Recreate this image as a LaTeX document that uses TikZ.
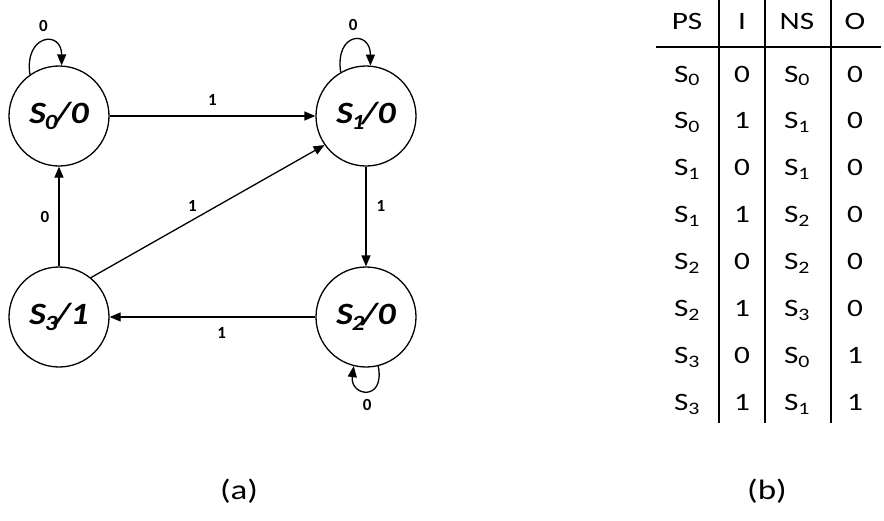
\documentclass[tikz,border=0pt]{standalone}
\usepackage{fontspec}
\setmainfont{Carlito}[Numbers=Lining]
\newfontfamily\tabfont{Carlito}[FakeStretch=1.25,Numbers=Lining]
\newfontfamily\statefont{Carlito}[FakeStretch=1.15,Numbers=Lining]
\usetikzlibrary{arrows.meta,positioning}

\tikzset{
  state/.style={circle,draw,line width=1.3pt,minimum size=100pt,inner sep=0pt,
    font=\statefont\fontsize{31}{31}\selectfont\bfseries\itshape},
  trans/.style={line width=1.3pt,-{Triangle[length=11pt,width=9pt]}},
  lbl/.style={font=\fontsize{17}{17}\selectfont\bfseries,inner sep=1pt},
  cell/.style={font=\tabfont\fontsize{25}{25}\selectfont,anchor=base,inner sep=0pt},
  rule/.style={line width=1.3pt},
}

\begin{document}
\begin{tikzpicture}[x=1pt,y=-1pt]
\useasboundingbox (0,0) rectangle (884,520);
%states
\node[state] (S0) at (59,116) {S\kern-1pt\textsubscript{0}\kern-3pt/0};
\node[state] (S1) at (366,116) {S\kern-1pt\textsubscript{1}\kern-3pt/0};
\node[state] (S2) at (366,317) {S\kern-1pt\textsubscript{2}\kern-3pt/0};
\node[state] (S3) at (59,317) {S\kern-1pt\textsubscript{3}\kern-3pt/1};
%transitions
\draw[trans] (S0.125) .. controls +(-6,-40) and +(0,-36) .. (S0.87) node[lbl,midway,above=8pt] (l00) {0};
\draw[trans] (S1.120) .. controls +(-6,-40) and +(0,-36) .. (S1.85) node[lbl,midway,above=8pt] (l11) {0};
\draw[trans] (S2.-76) .. controls +(7,36) and +(-4,30) .. (S2.-104) node[lbl,midway,below=7pt] (l22) {0};
\draw[trans] (S0) -- node[lbl,above=9pt] (l01) {1} (S1);
\draw[trans] (S1) -- node[lbl,pos=0.39,right=9pt] (l12) {1} (S2);
\draw[trans] (S2) -- node[lbl,pos=0.455,below=9pt] (l23) {1} (S3);
\draw[trans] (S3) -- node[lbl,left=8pt] (l30) {0} (S0);
\draw[trans] (S3.51) -- node[lbl,pos=0.46,xshift=-6pt,yshift=11pt] (l31) {1} (S1.215);
%table
\node[cell] (hPS) at (687,29) {PS};
\node[cell] (hI) at (742,29) {I};
\node[cell] (hNS) at (797,29) {NS};
\node[cell] (hO) at (855,29) {O};
\foreach \ps/\inp/\ns/\ov [count=\r] in {0/0/0/0,0/1/1/0,1/0/1/0,1/1/2/0,2/0/2/0,2/1/3/0,3/0/0/1,3/1/1/1}{
  \node[cell] (ps\r) at (687,{82+46.9*(\r-1)}) {S\textsubscript{\ps}};
  \node[cell] (in\r) at (742,{82+46.9*(\r-1)}) {\inp};
  \node[cell] (ns\r) at (797,{82+46.9*(\r-1)}) {S\textsubscript{\ns}};
  \node[cell] (o\r) at (855,{82+46.9*(\r-1)}) {\ov};
}
\draw[rule] (656,47) -- (881,47);
\draw[rule] (719,0) -- (719,423);
\draw[rule] (765,0) -- (765,423);
\draw[rule] (831,0) -- (831,423);
%captions
\node[font=\tabfont\fontsize{28}{28}\selectfont] (capa) at (239,491) {(a)};
\node[font=\tabfont\fontsize{28}{28}\selectfont] (capb) at (767,491) {(b)};
\end{tikzpicture}
\end{document}
